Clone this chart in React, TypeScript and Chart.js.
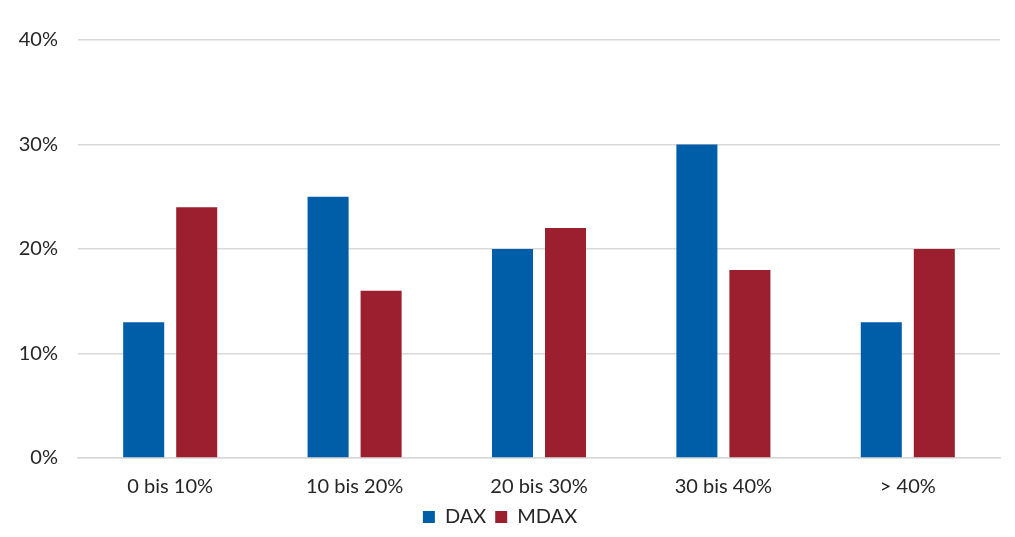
import { useEffect, useRef } from "react";
import Chart from "chart.js/auto";

const categories = ["0 bis 10%", "10 bis 20%", "20 bis 30%", "30 bis 40%", "> 40%"];
const daxValues = [13, 25, 20, 30, 13];
const mdaxValues = [24, 16, 22, 18, 20];
const yTicks = [0, 10, 20, 30, 40];

const FONT = "Lato, 'Open Sans', sans-serif";

const App: React.FC = () => {
  const canvasRef = useRef<HTMLCanvasElement>(null);
  const chartInstance = useRef<Chart | null>(null);

  useEffect(() => {
    if (!canvasRef.current) return;
    if (chartInstance.current) chartInstance.current.destroy();

    chartInstance.current = new Chart(canvasRef.current, {
      type: "bar",
      data: {
        labels: categories,
        datasets: [
          {
            label: "DAX",
            data: daxValues,
            backgroundColor: "#005DA8",
            categoryPercentage: 0.575,
            barPercentage: 0.774,
          },
          {
            label: "MDAX",
            data: mdaxValues,
            backgroundColor: "#9C1F2F",
            categoryPercentage: 0.575,
            barPercentage: 0.774,
          },
        ],
      },
      options: {
        responsive: true,
        maintainAspectRatio: false,
        animation: false,
        layout: {
          padding: { left: 0, right: 15, top: 40, bottom: 0 },
        },
        plugins: {
          tooltip: { enabled: false },
          legend: {
            position: "bottom",
            labels: {
              boxWidth: 12,
              boxHeight: 12,
              padding: 9,
              color: "#262626",
              font: { size: 20, family: FONT },
            },
          },
        },
        scales: {
          x: {
            afterFit: (scale) => {
              scale.height = 40;
            },
            grid: { display: false, drawTicks: false },
            border: { display: true, color: "#d9d9d9", width: 1.5 },
            ticks: {
              color: "#262626",
              padding: 17,
              font: { size: 20, family: FONT },
            },
          },
          y: {
            min: 0,
            max: 40,
            afterFit: (scale) => {
              scale.width = 78;
            },
            afterBuildTicks: (scale) => {
              scale.ticks = yTicks.map((v) => ({ value: v }));
            },
            grid: { color: "#d9d9d9", lineWidth: 1.5, drawTicks: false },
            border: { display: false },
            ticks: {
              color: "#262626",
              padding: 20,
              font: { size: 20, family: FONT },
              callback: (value) => value + "%",
            },
          },
        },
      },
    });

    return () => {
      if (chartInstance.current) {
        chartInstance.current.destroy();
        chartInstance.current = null;
      }
    };
  }, []);

  return (
    <div style={{ position: "absolute", left: 0, top: 0, width: 1015, height: 537, background: "#fff" }}>
      <canvas ref={canvasRef} />
    </div>
  );
};

export default App;
